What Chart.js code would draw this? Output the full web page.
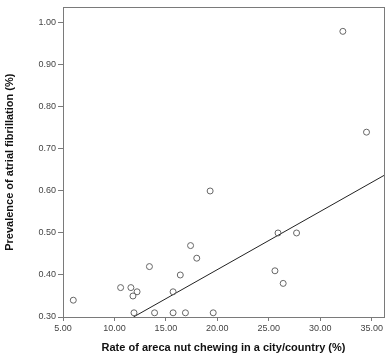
<!DOCTYPE html>
<html>
<head>
<meta charset="utf-8">
<script src="https://cdn.jsdelivr.net/npm/chart.js@4/dist/chart.umd.min.js"></script>
<style>
  html, body { margin: 0; padding: 0; background: #fff; }
  #wrap { width: 389px; height: 355px; }
</style>
</head>
<body>
<div id="wrap"><canvas id="myChart" width="389" height="355"></canvas></div>
<script>
// chewing rate (%) and AF prevalence (%) per city/country
const chewRate = [6.0, 10.6, 11.6, 11.8, 12.2, 11.9, 13.4, 13.9, 15.7, 15.7, 16.4, 16.9, 17.4, 18.0, 19.3, 19.6, 25.9, 27.7, 25.6, 26.4, 32.2, 34.5];
const afPrev   = [0.34, 0.37, 0.37, 0.35, 0.36, 0.31, 0.42, 0.31, 0.36, 0.31, 0.40, 0.31, 0.47, 0.44, 0.60, 0.31, 0.50, 0.50, 0.41, 0.38, 0.98, 0.74];
// fit line end points
const fitX = [11.85, 36.2];
const fitY = [0.30, 0.637];
const xTicks = [5, 10, 15, 20, 25, 30, 35];
const yTicks = [0.3, 0.4, 0.5, 0.6, 0.7, 0.8, 0.9, 1.0];

const pts = chewRate.map((v, i) => ({ x: v, y: afPrev[i] }));
const fit = fitX.map((v, i) => ({ x: v, y: fitY[i] }));

// box round the plot area
const frame = {
  id: 'frame',
  afterDraw(chart) {
    const a = chart.chartArea;
    const c = chart.ctx;
    c.save();
    c.strokeStyle = '#7a7a7a';
    c.lineWidth = 1;
    c.strokeRect(Math.round(a.left) + 0.5, Math.round(a.top) + 0.5,
      Math.round(a.right - a.left), Math.round(a.bottom - a.top));
    c.restore();
  }
};

Chart.defaults.font.family = '"Liberation Sans", Arial, sans-serif';
Chart.defaults.color = '#333';

let ctx = document.getElementById('myChart').getContext('2d');
let chart = new Chart(ctx, {
  type: 'scatter',
  data: {
    datasets: [{
      data: pts,
      pointRadius: 3,
      pointBorderColor: '#666',
      pointBackgroundColor: 'rgba(255,255,255,0)',
      pointBorderWidth: 1,
      showLine: false
    }, {
      type: 'line',
      data: fit,
      borderColor: '#222',
      borderWidth: 1,
      pointRadius: 0,
      fill: false
    }]
  },
  options: {
    responsive: false,
    animation: false,
    layout: { padding: { top: 3, right: 3, left: 3, bottom: 0 } },
    plugins: { legend: { display: false }, tooltip: { enabled: false } },
    scales: {
      x: {
        type: 'linear',
        min: 5, max: 36.2,
        afterBuildTicks: s => { s.ticks = xTicks.map(v => ({ value: v })); },
        afterFit: s => { s.height = 38; },
        ticks: {
          font: { size: 9 }, color: '#444', padding: 2,
          maxRotation: 0,
          callback: v => v.toFixed(2)
        },
        grid: { drawOnChartArea: false, tickLength: 4, color: '#7a7a7a' },
        border: { color: '#7a7a7a' },
        title: {
          display: true,
          text: 'Rate of areca nut chewing in a city/country (%)',
          font: { size: 11, weight: 'bold' }, color: '#111',
          padding: { top: 6, bottom: 0 }
        }
      },
      y: {
        min: 0.3, max: 1.037,
        afterBuildTicks: s => { s.ticks = yTicks.map(v => ({ value: v })); },
        afterFit: s => { s.width = 60; },
        ticks: {
          font: { size: 9 }, color: '#444', padding: 2,
          callback: v => v.toFixed(2)
        },
        grid: { drawOnChartArea: false, tickLength: 5, color: '#7a7a7a' },
        border: { color: '#7a7a7a' },
        title: {
          display: true,
          text: 'Prevalence of atrial fibrillation (%)',
          font: { size: 11, weight: 'bold' }, color: '#111',
          padding: { top: 0, bottom: 0 }
        }
      }
    }
  },
  plugins: [frame]
});
</script>
</body>
</html>
